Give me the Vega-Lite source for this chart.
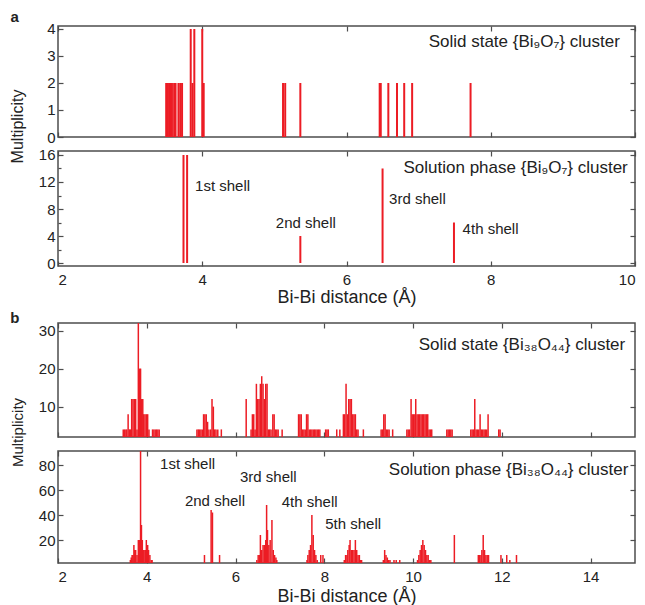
{
  "$schema": "https://vega.github.io/schema/vega-lite/v6.json",
  "autosize": {"type": "none"},
  "padding": {"left": 58, "top": 26, "right": 587, "bottom": 579},
  "datasets": {
    "a1": [
      {"d": 3.50, "m": 2}, {"d": 3.52, "m": 2}, {"d": 3.54, "m": 2}, {"d": 3.56, "m": 2}, {"d": 3.58, "m": 2},
      {"d": 3.61, "m": 2}, {"d": 3.63, "m": 2}, {"d": 3.67, "m": 2}, {"d": 3.695, "m": 2}, {"d": 3.72, "m": 2},
      {"d": 3.84, "m": 4}, {"d": 3.865, "m": 2}, {"d": 3.89, "m": 4}, {"d": 4.00, "m": 4}, {"d": 4.02, "m": 2},
      {"d": 5.12, "m": 2}, {"d": 5.15, "m": 2}, {"d": 5.36, "m": 2},
      {"d": 6.46, "m": 2}, {"d": 6.475, "m": 2}, {"d": 6.58, "m": 2}, {"d": 6.70, "m": 2}, {"d": 6.80, "m": 2},
      {"d": 6.91, "m": 2}, {"d": 7.72, "m": 2}
    ],
    "a2": [
      {"d": 3.74, "m": 16}, {"d": 3.79, "m": 16}, {"d": 5.36, "m": 4}, {"d": 6.50, "m": 14}, {"d": 7.49, "m": 6}
    ],
    "b1": [
      {"d": 3.47, "m": 4}, {"d": 3.50, "m": 4}, {"d": 3.53, "m": 4}, {"d": 3.55, "m": 4}, {"d": 3.58, "m": 8},
      {"d": 3.61, "m": 4}, {"d": 3.63, "m": 4}, {"d": 3.66, "m": 12}, {"d": 3.69, "m": 12}, {"d": 3.72, "m": 12},
      {"d": 3.75, "m": 12}, {"d": 3.78, "m": 4}, {"d": 3.81, "m": 32}, {"d": 3.84, "m": 20}, {"d": 3.86, "m": 20},
      {"d": 3.88, "m": 12}, {"d": 3.91, "m": 12}, {"d": 3.93, "m": 8}, {"d": 3.96, "m": 8}, {"d": 3.99, "m": 8},
      {"d": 4.02, "m": 8}, {"d": 4.05, "m": 4}, {"d": 4.13, "m": 4}, {"d": 4.16, "m": 4}, {"d": 4.19, "m": 4},
      {"d": 4.22, "m": 4}, {"d": 4.25, "m": 4}, {"d": 4.28, "m": 4},
      {"d": 5.13, "m": 4}, {"d": 5.16, "m": 4}, {"d": 5.19, "m": 4}, {"d": 5.22, "m": 4}, {"d": 5.25, "m": 4},
      {"d": 5.28, "m": 8}, {"d": 5.31, "m": 8}, {"d": 5.34, "m": 8}, {"d": 5.37, "m": 6}, {"d": 5.40, "m": 4},
      {"d": 5.44, "m": 4}, {"d": 5.47, "m": 12}, {"d": 5.50, "m": 10}, {"d": 5.53, "m": 4}, {"d": 5.56, "m": 4},
      {"d": 5.60, "m": 4}, {"d": 5.68, "m": 4},
      {"d": 6.24, "m": 12}, {"d": 6.35, "m": 4}, {"d": 6.38, "m": 8}, {"d": 6.41, "m": 8}, {"d": 6.44, "m": 4},
      {"d": 6.47, "m": 16}, {"d": 6.50, "m": 12}, {"d": 6.53, "m": 12}, {"d": 6.56, "m": 16}, {"d": 6.59, "m": 18},
      {"d": 6.62, "m": 16}, {"d": 6.65, "m": 12}, {"d": 6.68, "m": 16}, {"d": 6.71, "m": 16}, {"d": 6.74, "m": 4},
      {"d": 6.77, "m": 4}, {"d": 6.80, "m": 4}, {"d": 6.84, "m": 8}, {"d": 6.87, "m": 8}, {"d": 6.90, "m": 4},
      {"d": 6.93, "m": 4}, {"d": 6.96, "m": 4}, {"d": 7.05, "m": 4},
      {"d": 7.42, "m": 8}, {"d": 7.45, "m": 8}, {"d": 7.48, "m": 8}, {"d": 7.51, "m": 4}, {"d": 7.54, "m": 4},
      {"d": 7.57, "m": 4}, {"d": 7.60, "m": 8}, {"d": 7.63, "m": 8}, {"d": 7.66, "m": 4}, {"d": 7.69, "m": 4},
      {"d": 7.72, "m": 4}, {"d": 7.75, "m": 4}, {"d": 7.78, "m": 4}, {"d": 7.81, "m": 4}, {"d": 7.84, "m": 4},
      {"d": 7.87, "m": 4}, {"d": 7.90, "m": 4}, {"d": 8.03, "m": 4}, {"d": 8.06, "m": 4}, {"d": 8.09, "m": 4},
      {"d": 8.28, "m": 4}, {"d": 8.35, "m": 4}, {"d": 8.43, "m": 8}, {"d": 8.46, "m": 8}, {"d": 8.49, "m": 16},
      {"d": 8.52, "m": 8}, {"d": 8.55, "m": 12}, {"d": 8.58, "m": 12}, {"d": 8.61, "m": 12}, {"d": 8.64, "m": 8},
      {"d": 8.67, "m": 8}, {"d": 8.70, "m": 8}, {"d": 8.73, "m": 4}, {"d": 8.76, "m": 4}, {"d": 8.88, "m": 4},
      {"d": 9.28, "m": 4}, {"d": 9.31, "m": 4}, {"d": 9.34, "m": 8}, {"d": 9.37, "m": 8}, {"d": 9.40, "m": 4},
      {"d": 9.43, "m": 4}, {"d": 9.46, "m": 4}, {"d": 9.54, "m": 4},
      {"d": 9.86, "m": 4}, {"d": 9.89, "m": 4}, {"d": 9.92, "m": 4}, {"d": 9.955, "m": 12}, {"d": 9.98, "m": 8},
      {"d": 10.01, "m": 8}, {"d": 10.04, "m": 8}, {"d": 10.06, "m": 12}, {"d": 10.09, "m": 8}, {"d": 10.12, "m": 8},
      {"d": 10.15, "m": 8}, {"d": 10.18, "m": 8}, {"d": 10.21, "m": 8}, {"d": 10.24, "m": 8}, {"d": 10.27, "m": 8},
      {"d": 10.30, "m": 8}, {"d": 10.33, "m": 8}, {"d": 10.36, "m": 4}, {"d": 10.39, "m": 4}, {"d": 10.42, "m": 4},
      {"d": 10.76, "m": 4}, {"d": 10.79, "m": 4}, {"d": 10.82, "m": 4}, {"d": 10.85, "m": 4}, {"d": 10.88, "m": 4},
      {"d": 11.30, "m": 4}, {"d": 11.33, "m": 4}, {"d": 11.36, "m": 4}, {"d": 11.39, "m": 12}, {"d": 11.42, "m": 4},
      {"d": 11.45, "m": 4}, {"d": 11.48, "m": 4}, {"d": 11.51, "m": 8}, {"d": 11.54, "m": 4}, {"d": 11.57, "m": 4},
      {"d": 11.60, "m": 4}, {"d": 11.63, "m": 4}, {"d": 11.66, "m": 4}, {"d": 11.69, "m": 8},
      {"d": 11.93, "m": 4}, {"d": 11.96, "m": 4}
    ],
    "b2": [
      {"d": 3.63, "m": 4}, {"d": 3.65, "m": 6}, {"d": 3.67, "m": 8}, {"d": 3.69, "m": 8}, {"d": 3.71, "m": 16},
      {"d": 3.73, "m": 12}, {"d": 3.75, "m": 12}, {"d": 3.78, "m": 8}, {"d": 3.81, "m": 20}, {"d": 3.84, "m": 20},
      {"d": 3.86, "m": 92}, {"d": 3.88, "m": 32}, {"d": 3.90, "m": 20}, {"d": 3.92, "m": 12}, {"d": 3.94, "m": 12},
      {"d": 3.97, "m": 12}, {"d": 3.99, "m": 20}, {"d": 4.02, "m": 16}, {"d": 4.04, "m": 12}, {"d": 4.07, "m": 8},
      {"d": 4.10, "m": 4}, {"d": 4.12, "m": 4},
      {"d": 5.30, "m": 8}, {"d": 5.45, "m": 44}, {"d": 5.48, "m": 42}, {"d": 5.64, "m": 8},
      {"d": 6.48, "m": 4}, {"d": 6.51, "m": 8}, {"d": 6.54, "m": 8}, {"d": 6.56, "m": 24}, {"d": 6.59, "m": 12},
      {"d": 6.62, "m": 16}, {"d": 6.65, "m": 16}, {"d": 6.68, "m": 20}, {"d": 6.70, "m": 48}, {"d": 6.72, "m": 28},
      {"d": 6.75, "m": 16}, {"d": 6.78, "m": 20}, {"d": 6.82, "m": 36}, {"d": 6.85, "m": 12}, {"d": 6.88, "m": 8},
      {"d": 6.91, "m": 6}, {"d": 6.93, "m": 4},
      {"d": 7.61, "m": 4}, {"d": 7.63, "m": 8}, {"d": 7.66, "m": 12}, {"d": 7.69, "m": 16}, {"d": 7.72, "m": 40},
      {"d": 7.75, "m": 24}, {"d": 7.78, "m": 12}, {"d": 7.81, "m": 8}, {"d": 7.84, "m": 4}, {"d": 7.92, "m": 8},
      {"d": 7.97, "m": 8},
      {"d": 8.45, "m": 4}, {"d": 8.48, "m": 8}, {"d": 8.51, "m": 8}, {"d": 8.53, "m": 12}, {"d": 8.56, "m": 16},
      {"d": 8.58, "m": 20}, {"d": 8.61, "m": 12}, {"d": 8.64, "m": 12}, {"d": 8.67, "m": 12}, {"d": 8.70, "m": 20},
      {"d": 8.73, "m": 12}, {"d": 8.76, "m": 8}, {"d": 8.79, "m": 8}, {"d": 8.82, "m": 4}, {"d": 8.84, "m": 4},
      {"d": 9.33, "m": 4}, {"d": 9.36, "m": 12}, {"d": 9.39, "m": 8}, {"d": 9.42, "m": 6}, {"d": 9.45, "m": 4},
      {"d": 9.48, "m": 4}, {"d": 9.57, "m": 4}, {"d": 9.62, "m": 4}, {"d": 9.70, "m": 4},
      {"d": 10.10, "m": 4}, {"d": 10.13, "m": 8}, {"d": 10.16, "m": 12}, {"d": 10.19, "m": 16}, {"d": 10.22, "m": 20},
      {"d": 10.25, "m": 16}, {"d": 10.28, "m": 12}, {"d": 10.31, "m": 8}, {"d": 10.34, "m": 8}, {"d": 10.37, "m": 4},
      {"d": 10.40, "m": 4},
      {"d": 10.93, "m": 24},
      {"d": 11.47, "m": 8}, {"d": 11.50, "m": 8}, {"d": 11.53, "m": 8}, {"d": 11.55, "m": 12}, {"d": 11.58, "m": 24},
      {"d": 11.61, "m": 12}, {"d": 11.64, "m": 8}, {"d": 11.67, "m": 8}, {"d": 11.70, "m": 8},
      {"d": 11.98, "m": 8}, {"d": 12.11, "m": 8}, {"d": 12.18, "m": 4}, {"d": 12.33, "m": 8}
    ]
  },
  "vconcat": [
    {
      "width": 577, "height": 111,
      "layer": [
        {"data": {"name": "a1"}, "mark": {"type": "rule", "color": "#ec1c24", "strokeWidth": 2},
         "encoding": {
           "x": {"field": "d", "type": "quantitative", "scale": {"domain": [2, 10], "nice": false, "zero": false},
                 "axis": {"orient": "bottom", "values": [2, 4, 6, 8, 10], "labels": false, "title": null}},
           "y": {"field": "m", "type": "quantitative", "scale": {"domain": [0, 4.11], "nice": false, "zero": false},
                 "axis": {"orient": "left", "values": [0, 1, 2, 3, 4], "title": "Multiplicity", "titleX": -41, "titleY": 100,
                          "titleAngle": -90, "titleBaseline": "middle", "titleAlign": "center", "titleFontSize": 16}},
           "y2": {"datum": 0}}},
        {"data": {"name": "a1"}, "mark": {"type": "rule", "strokeOpacity": 0},
         "encoding": {
           "x": {"field": "d", "type": "quantitative", "axis": {"orient": "top", "values": [2, 4, 6, 8, 10], "labels": false, "title": null}},
           "y": {"field": "m", "type": "quantitative", "axis": {"orient": "right", "values": [0, 1, 2, 3, 4], "labels": false, "title": null}},
           "y2": {"datum": 0}}},
        {"data": {"values": [{}]}, "mark": {"type": "text", "align": "right", "baseline": "middle", "fontSize": 17},
         "encoding": {"x": {"datum": 9.79, "type": "quantitative", "axis": null}, "y": {"datum": 3.53, "type": "quantitative", "axis": null},
                      "text": {"value": "Solid state {Bi₉O₇} cluster"}}},
        {"data": {"values": [{}]}, "mark": {"type": "text", "align": "center", "baseline": "middle", "fontSize": 15, "fontWeight": "bold"},
         "encoding": {"x": {"datum": 1.4, "type": "quantitative", "axis": null}, "y": {"datum": 4.44, "type": "quantitative", "axis": null},
                      "text": {"value": "a"}}}
      ],
      "resolve": {"axis": {"x": "independent", "y": "independent"}}
    },
    {
      "width": 577, "height": 115,
      "layer": [
        {"data": {"name": "a2"}, "mark": {"type": "rule", "color": "#ec1c24", "strokeWidth": 2},
         "encoding": {
           "x": {"field": "d", "type": "quantitative", "scale": {"domain": [2, 10], "nice": false, "zero": false},
                 "axis": {"orient": "bottom", "values": [2, 4, 6, 8, 10], "title": "Bi-Bi distance (Å)", "titleY": 31, "titleBaseline": "middle"}},
           "y": {"field": "m", "type": "quantitative", "scale": {"domain": [-0.44, 16.59], "nice": false, "zero": false},
                 "axis": {"orient": "left", "values": [0, 4, 8, 12, 16], "title": null}},
           "y2": {"datum": 0}}},
        {"data": {"name": "a2"}, "mark": {"type": "rule", "strokeOpacity": 0},
         "encoding": {
           "x": {"field": "d", "type": "quantitative", "axis": {"orient": "top", "values": [2, 4, 6, 8, 10], "labels": false, "title": null}},
           "y": {"field": "m", "type": "quantitative", "axis": {"orient": "right", "values": [0, 4, 8, 12, 16], "labels": false, "title": null}},
           "y2": {"datum": 0}}},
        {"data": {"name": "a2"}, "mark": {"type": "rule", "strokeOpacity": 0},
         "encoding": {
           "x": {"field": "d", "type": "quantitative", "axis": null},
           "y": {"field": "m", "type": "quantitative", "axis": {"orient": "left", "values": [2, 6, 10, 14], "labels": false, "title": null, "tickSize": -3}},
           "y2": {"datum": 0}}},
        {"data": {"values": [{}]}, "mark": {"type": "text", "align": "right", "baseline": "middle", "fontSize": 17},
         "encoding": {"x": {"datum": 9.9, "type": "quantitative", "axis": null}, "y": {"datum": 14.07, "type": "quantitative", "axis": null},
                      "text": {"value": "Solution phase {Bi₉O₇} cluster"}}},
        {"data": {"values": [{}]}, "mark": {"type": "text", "align": "left", "baseline": "middle", "fontSize": 15},
         "encoding": {"x": {"datum": 3.9, "type": "quantitative", "axis": null}, "y": {"datum": 11.45, "type": "quantitative", "axis": null},
                      "text": {"value": "1st shell"}}},
        {"data": {"values": [{}]}, "mark": {"type": "text", "align": "left", "baseline": "middle", "fontSize": 15},
         "encoding": {"x": {"datum": 5.02, "type": "quantitative", "axis": null}, "y": {"datum": 5.93, "type": "quantitative", "axis": null},
                      "text": {"value": "2nd shell"}}},
        {"data": {"values": [{}]}, "mark": {"type": "text", "align": "left", "baseline": "middle", "fontSize": 15},
         "encoding": {"x": {"datum": 6.59, "type": "quantitative", "axis": null}, "y": {"datum": 9.48, "type": "quantitative", "axis": null},
                      "text": {"value": "3rd shell"}}},
        {"data": {"values": [{}]}, "mark": {"type": "text", "align": "left", "baseline": "middle", "fontSize": 15},
         "encoding": {"x": {"datum": 7.61, "type": "quantitative", "axis": null}, "y": {"datum": 5.04, "type": "quantitative", "axis": null},
                      "text": {"value": "4th shell"}}}
      ],
      "resolve": {"axis": {"x": "independent", "y": "independent"}}
    },
    {
      "width": 577, "height": 29,
      "view": {"stroke": null},
      "data": {"values": []},
      "mark": "point"
    },
    {
      "width": 577, "height": 114,
      "layer": [
        {"data": {"name": "b1"}, "mark": {"type": "rule", "color": "#ec1c24", "strokeWidth": 1.5, "clip": true},
         "encoding": {
           "x": {"field": "d", "type": "quantitative", "scale": {"domain": [2, 15], "nice": false, "zero": false},
                 "axis": {"orient": "bottom", "values": [2, 4, 6, 8, 10, 12, 14], "labels": false, "title": null}},
           "y": {"field": "m", "type": "quantitative", "scale": {"domain": [2, 32], "nice": false, "zero": false},
                 "axis": {"orient": "left", "values": [10, 20, 30], "title": "Multiplicity", "titleX": -41, "titleY": 109,
                          "titleAngle": -90, "titleBaseline": "middle", "titleAlign": "center", "titleFontSize": 15}},
           "y2": {"datum": 2}}},
        {"data": {"name": "b1"}, "mark": {"type": "rule", "strokeOpacity": 0},
         "encoding": {
           "x": {"field": "d", "type": "quantitative", "axis": {"orient": "top", "values": [2, 4, 6, 8, 10, 12, 14], "labels": false, "title": null}},
           "y": {"field": "m", "type": "quantitative", "axis": {"orient": "right", "values": [10, 20, 30], "labels": false, "title": null}},
           "y2": {"datum": 2}}},
        {"data": {"values": [{}]}, "mark": {"type": "text", "align": "right", "baseline": "middle", "fontSize": 17},
         "encoding": {"x": {"datum": 14.78, "type": "quantitative", "axis": null}, "y": {"datum": 26.2, "type": "quantitative", "axis": null},
                      "text": {"value": "Solid state {Bi₃₈O₄₄} cluster"}}},
        {"data": {"values": [{}]}, "mark": {"type": "text", "align": "center", "baseline": "middle", "fontSize": 15, "fontWeight": "bold"},
         "encoding": {"x": {"datum": 1.03, "type": "quantitative", "axis": null}, "y": {"datum": 33.3, "type": "quantitative", "axis": null},
                      "text": {"value": "b"}}}
      ],
      "resolve": {"axis": {"x": "independent", "y": "independent"}}
    },
    {
      "width": 577, "height": 112,
      "layer": [
        {"data": {"name": "b2"}, "mark": {"type": "rule", "color": "#ec1c24", "strokeWidth": 1.5, "clip": true},
         "encoding": {
           "x": {"field": "d", "type": "quantitative", "scale": {"domain": [2, 15], "nice": false, "zero": false},
                 "axis": {"orient": "bottom", "values": [2, 4, 6, 8, 10, 12, 14], "title": "Bi-Bi distance (Å)", "titleY": 33, "titleBaseline": "middle"}},
           "y": {"field": "m", "type": "quantitative", "scale": {"domain": [1.6, 91.2], "nice": false, "zero": false},
                 "axis": {"orient": "left", "values": [20, 40, 60, 80], "title": null}},
           "y2": {"datum": 1.6}}},
        {"data": {"name": "b2"}, "mark": {"type": "rule", "strokeOpacity": 0},
         "encoding": {
           "x": {"field": "d", "type": "quantitative", "axis": {"orient": "top", "values": [2, 4, 6, 8, 10, 12, 14], "labels": false, "title": null}},
           "y": {"field": "m", "type": "quantitative", "axis": {"orient": "right", "values": [20, 40, 60, 80], "labels": false, "title": null}},
           "y2": {"datum": 1.6}}},
        {"data": {"values": [{}]}, "mark": {"type": "text", "align": "right", "baseline": "middle", "fontSize": 17},
         "encoding": {"x": {"datum": 14.85, "type": "quantitative", "axis": null}, "y": {"datum": 76, "type": "quantitative", "axis": null},
                      "text": {"value": "Solution phase {Bi₃₈O₄₄} cluster"}}},
        {"data": {"values": [{}]}, "mark": {"type": "text", "align": "left", "baseline": "middle", "fontSize": 15},
         "encoding": {"x": {"datum": 4.30, "type": "quantitative", "axis": null}, "y": {"datum": 80.8, "type": "quantitative", "axis": null},
                      "text": {"value": "1st shell"}}},
        {"data": {"values": [{}]}, "mark": {"type": "text", "align": "left", "baseline": "middle", "fontSize": 15},
         "encoding": {"x": {"datum": 4.86, "type": "quantitative", "axis": null}, "y": {"datum": 51.2, "type": "quantitative", "axis": null},
                      "text": {"value": "2nd shell"}}},
        {"data": {"values": [{}]}, "mark": {"type": "text", "align": "left", "baseline": "middle", "fontSize": 15},
         "encoding": {"x": {"datum": 6.10, "type": "quantitative", "axis": null}, "y": {"datum": 70.6, "type": "quantitative", "axis": null},
                      "text": {"value": "3rd shell"}}},
        {"data": {"values": [{}]}, "mark": {"type": "text", "align": "left", "baseline": "middle", "fontSize": 15},
         "encoding": {"x": {"datum": 7.04, "type": "quantitative", "axis": null}, "y": {"datum": 50.6, "type": "quantitative", "axis": null},
                      "text": {"value": "4th shell"}}},
        {"data": {"values": [{}]}, "mark": {"type": "text", "align": "left", "baseline": "middle", "fontSize": 15},
         "encoding": {"x": {"datum": 8.02, "type": "quantitative", "axis": null}, "y": {"datum": 32.8, "type": "quantitative", "axis": null},
                      "text": {"value": "5th shell"}}}
      ],
      "resolve": {"axis": {"x": "independent", "y": "independent"}}
    }
  ],
  "spacing": 14,
  "bounds": "flush",
  "config": {
    "font": "Liberation Sans",
    "view": {"stroke": "#4d4d4d", "strokeWidth": 1.5},
    "axis": {"domain": false, "grid": false, "ticks": true, "tickColor": "#4d4d4d", "tickWidth": 1.2, "tickSize": -5,
             "labelFontSize": 15, "labelColor": "#222", "titleColor": "#222", "titleFontWeight": "normal", "titleFontSize": 18,
             "labelFont": "Liberation Sans", "titleFont": "Liberation Sans"},
    "axisX": {"labelPadding": 11},
    "axisY": {"labelPadding": 8},
    "text": {"color": "#222", "font": "Liberation Sans"}
  }
}
